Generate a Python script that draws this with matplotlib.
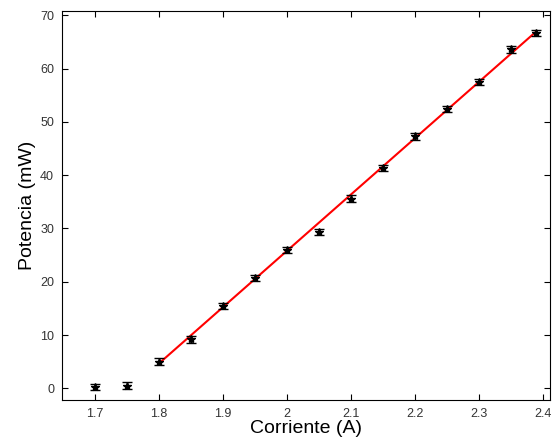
import matplotlib
matplotlib.use("Agg")
import matplotlib.pyplot as plt

plt.rcParams["font.family"] = ["Liberation Sans", "DejaVu Sans"]

# Datos medidos
corriente = [1.70, 1.75, 1.80, 1.85, 1.90, 1.95, 2.00, 2.05, 2.10, 2.15,
             2.20, 2.25, 2.30, 2.35, 2.39]
potencia = [0.3, 0.5, 5.0, 9.2, 15.4, 20.7, 26.0, 29.3, 35.6, 41.4,
            47.3, 52.4, 57.5, 63.6, 66.7]
error_p = [0.6, 0.6, 0.6, 0.6, 0.6, 0.6, 0.6, 0.6, 0.6, 0.6,
           0.6, 0.6, 0.6, 0.6, 0.6]

# Ajuste lineal (extremos)
ajuste_x = [1.80, 2.39]
ajuste_y = [4.6, 67.0]

xticks = [1.7, 1.8, 1.9, 2.0, 2.1, 2.2, 2.3, 2.4]
xticklabels = ["1.7", "1.8", "1.9", "2", "2.1", "2.2", "2.3", "2.4"]
yticks = [0, 10, 20, 30, 40, 50, 60, 70]

fig = plt.figure(figsize=(5.55, 4.45), dpi=100)
ax = fig.add_axes([0.1126, 0.101, 0.878, 0.874])

ax.plot(ajuste_x, ajuste_y, "-", color="red", linewidth=1.5, zorder=2)
ax.errorbar(corriente, potencia, yerr=error_p, fmt="*", color="black",
            markersize=6, elinewidth=1, capsize=3.5, capthick=1, zorder=3)

ax.set_xlim(1.65, 2.411)
ax.set_ylim(-2.2, 70.8)
ax.set_xticks(xticks)
ax.set_xticklabels(xticklabels)
ax.set_yticks(yticks)
ax.tick_params(direction="in", length=4, width=0.8, top=True, right=True,
               labelsize=9, labelcolor="#333333", pad=6)
for s in ax.spines.values():
    s.set_linewidth(0.8)

ax.set_xlabel("Corriente (A)", fontsize=14, labelpad=0)
ax.set_ylabel("Potencia (mW)", fontsize=14, labelpad=3)

fig.savefig("out.png", dpi=100)
